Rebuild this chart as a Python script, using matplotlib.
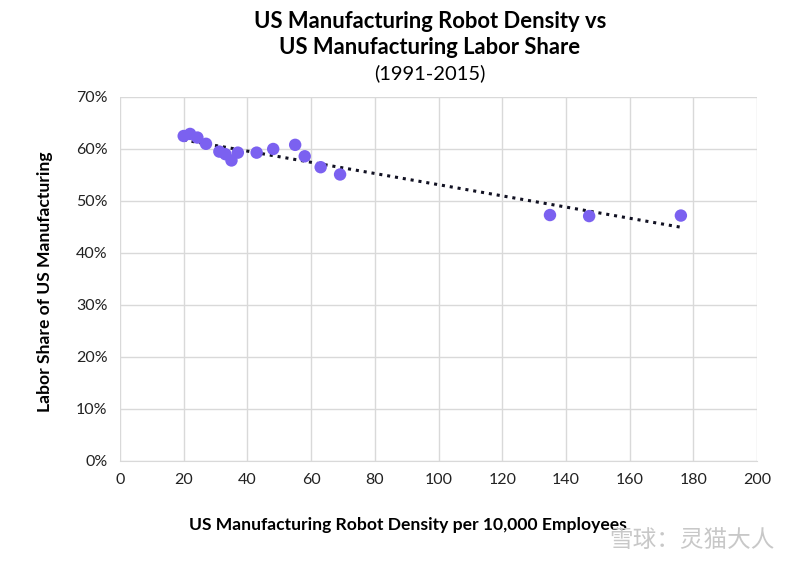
import numpy as np
import matplotlib
matplotlib.use('Agg')
import matplotlib.pyplot as plt
from matplotlib.ticker import FuncFormatter

# robot density per 10,000 employees vs labor share (%)
robot_density = [20, 22, 24.3, 27, 31.2, 33.1, 35, 37, 42.9, 48.1, 55, 58, 63, 69.1, 135, 147.3, 176.1]
labor_share = [62.5, 62.9, 62.2, 61.0, 59.5, 59.0, 57.8, 59.3, 59.3, 60.0, 60.8, 58.6, 56.5, 55.1, 47.3, 47.1, 47.2]

x_ticks = [0, 20, 40, 60, 80, 100, 120, 140, 160, 180, 200]
y_ticks = [0, 10, 20, 30, 40, 50, 60, 70]

plt.rcParams['font.family'] = ['Lato', 'DejaVu Sans']

fig = plt.figure(figsize=(8, 5.63), dpi=100)
ax = fig.add_axes([120/800, 1 - 461/563, (757-120)/800, (461-97)/563])

x = np.array(robot_density)
y = np.array(labor_share)
slope, icpt = np.polyfit(x, y, 1)
xt = np.array([x.min(), x.max()])
ax.plot(xt, slope*xt + icpt, linestyle=(0, (1, 1.6)), color='#111122', linewidth=2.2, zorder=2)

ax.scatter(x, y, s=80, color='#7b61f0', edgecolors='none', zorder=3)

ax.set_xlim(0, 200)
ax.set_ylim(0, 70)
ax.set_xticks(x_ticks)
ax.set_yticks(y_ticks)
ax.yaxis.set_major_formatter(FuncFormatter(lambda v, p: '{0:.0f}%'.format(v)))
ax.grid(True, color='#d9d9d9', linewidth=1)
ax.set_axisbelow(True)
for s in ['top', 'right', 'left']:
    ax.spines[s].set_visible(False)
ax.spines['bottom'].set_color('#d9d9d9')
ax.tick_params(length=0, labelsize=11.5, colors='#222222', pad=9)

fig.text(408/800, 1 - 525/563, 'US Manufacturing Robot Density per 10,000 Employees',
         ha='center', va='center', fontsize=12.6, fontweight='bold')
fig.text(45/800, 1 - 282/563, 'Labor Share of US Manufacturing', ha='center', va='center',
         rotation=90, fontsize=12.6, fontweight='bold')

fig.text(430/800, 1 - 22/563, 'US Manufacturing Robot Density vs', ha='center', va='center',
         fontsize=15.8, fontweight='bold')
fig.text(430/800, 1 - 47/563, 'US Manufacturing Labor Share', ha='center', va='center',
         fontsize=15.8, fontweight='bold')
fig.text(430/800, 1 - 73/563, '(1991-2015)', ha='center', va='center', fontsize=14.5)

fig.text(775/800, 1 - 540/563, '雪球：灵猫大人', ha='right', va='center', fontsize=17,
         color='#c8c8c8', family=['Noto Sans CJK SC', 'DejaVu Sans'])

fig.savefig('out.png', dpi=100, facecolor='white')
